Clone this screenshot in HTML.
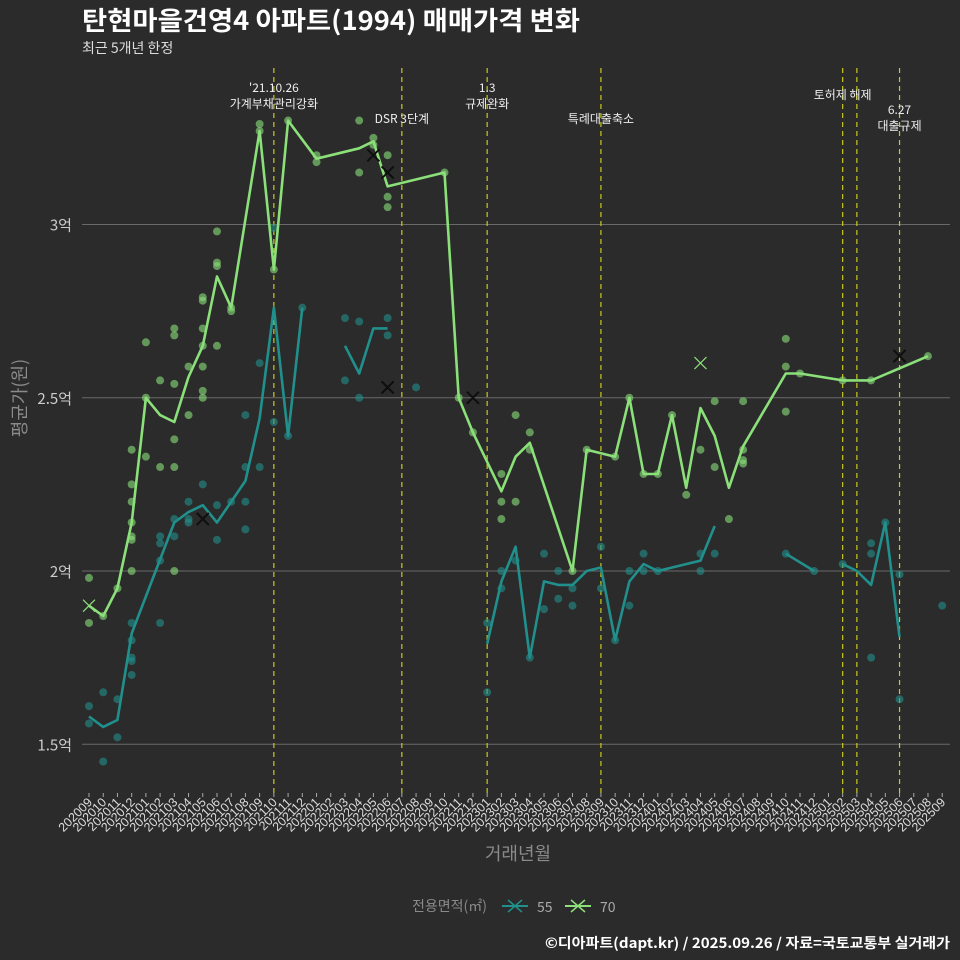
<!DOCTYPE html>
<html><head><meta charset="utf-8">
<style>
body{margin:0;background:#2b2b2b;}
svg{display:block;font-family:"Liberation Sans","Noto Sans CJK KR",sans-serif;}
</style></head>
<body>
<svg id="c" width="960" height="960" viewBox="0 0 960 960">
<rect width="960" height="960" fill="#2b2b2b"/>
<text x="82" y="30" fill="#ffffff" font-size="26" font-weight="bold" font-family="'Noto Sans CJK KR',sans-serif" textLength="498" lengthAdjust="spacingAndGlyphs">탄현마을건영4 아파트(1994) 매매가격 변화</text>
<text x="82" y="53" fill="#dddddd" font-size="14" font-family="'Noto Sans CJK KR',sans-serif">최근 5개년 한정</text>
<g id="grid"></g>
<g id="vlines"></g>
<g id="points"></g>
<g id="lines"></g>
<g id="marks"></g>
<g id="xaxis"></g>
<text transform="translate(26,398) rotate(-90)" text-anchor="middle" fill="#8a8a8a" font-size="18" font-family="'Noto Sans CJK KR',sans-serif">평균가(원)</text>
<text x="518" y="860" text-anchor="middle" fill="#8a8a8a" font-size="18" font-family="'Noto Sans CJK KR',sans-serif">거래년월</text>
<g font-family="'Noto Sans CJK KR',sans-serif">
<text x="412" y="911" fill="#8a8a8a" font-size="14">전용면적(㎡)</text>
<g>
<line x1="502" y1="906" x2="528" y2="906" stroke="#21908c" stroke-width="2"/>
<path d="M508 900 L522 912 M522 900 L508 912" stroke="#21908c" stroke-width="1.5"/>
<text x="537" y="912" fill="#aaaaaa" font-size="14">55</text></g>
<g>
<line x1="565" y1="906" x2="591" y2="906" stroke="#8be07a" stroke-width="2"/>
<path d="M571 900 L585 912 M585 900 L571 912" stroke="#8be07a" stroke-width="1.5"/>
<text x="600" y="912" fill="#aaaaaa" font-size="14">70</text></g>
</g>
<text x="950" y="948" text-anchor="end" fill="#ffffff" font-size="14" font-weight="bold" font-family="'Noto Sans CJK KR',sans-serif" textLength="405" lengthAdjust="spacingAndGlyphs">©디아파트(dapt.kr) / 2025.09.26 / 자료=국토교통부 실거래가</text>
</svg>
<script>
const yTicks=[1.5,2,2.5,3];
const yTickLabels=["1.5억","2억","2.5억","3억"];
const policyMonths=[13,22,28,36,53,54,57];
const policyLabels=[["'21.10.26","가계부채관리강화"],["DSR 3단계"],["1.3","규제완화"],["특례대출축소"],["토허제 해제"],[],["6.27","대출규제"]];
const policyLabelY=[[92,108],[123],[92,108],[123],[99],[],[114,130]];
const months70=[0,1,2,3,4,5,6,7,8,9,10,12,13,14,16,19,20,21,25,26,27,29,30,31,34,35,37,38,39,40,41,42,43,44,45,46,49,50,53,55,59];
const values70=[1.90,1.87,1.95,2.14,2.50,2.45,2.43,2.56,2.65,2.85,2.76,3.27,2.87,3.30,3.19,3.22,3.24,3.11,3.15,2.50,2.40,2.23,2.33,2.37,2.00,2.35,2.33,2.50,2.28,2.28,2.45,2.24,2.47,2.39,2.24,2.36,2.57,2.57,2.55,2.55,2.62];
const months55=[0,1,2,3,6,7,8,9,10,11,12,13,14,15,null,18,19,20,21,null,28,29,30,31,32,33,34,35,36,37,38,39,40,43,44,null,49,51,null,53,54,55,56,57];
const values55=[1.58,1.55,1.57,1.82,2.14,2.17,2.19,2.14,2.20,2.26,2.44,2.76,2.39,2.76,null,2.65,2.57,2.70,2.70,null,1.79,1.97,2.07,1.75,1.97,1.96,1.96,2.00,2.01,1.80,1.97,2.02,2.00,2.03,2.13,null,2.05,2.00,null,2.02,2.00,1.96,2.14,1.81];
const pts70M=[0,0,1,2,3,3,3,3,3,3,3,4,4,4,5,5,6,6,6,6,6,6,7,7,8,8,8,8,8,8,8,9,9,9,9,10,10,12,12,13,14,16,16,19,19,20,20,21,21,21,25,26,27,29,29,29,30,30,31,31,34,35,37,38,39,40,41,42,43,44,44,45,46,46,46,46,49,49,49,50,53,55,59];
const pts70V=[1.98,1.85,1.87,1.95,2.35,2.25,2.20,2.14,2.10,2.09,2.0,2.5,2.33,2.66,2.55,2.30,2.54,2.38,2.30,2.0,2.70,2.68,2.45,2.59,2.50,2.52,2.59,2.65,2.70,2.78,2.79,2.65,2.88,2.89,2.98,2.76,2.75,3.29,3.27,2.87,3.30,3.20,3.18,3.30,3.15,3.25,3.23,3.20,3.08,3.05,3.15,2.50,2.40,2.28,2.20,2.15,2.45,2.20,2.40,2.35,2.0,2.35,2.33,2.5,2.28,2.28,2.45,2.22,2.35,2.49,2.30,2.15,2.49,2.32,2.31,2.35,2.67,2.59,2.46,2.57,2.55,2.55,2.62];
const pts55M=[0,0,1,1,2,2,3,3,3,3,3,5,5,5,5,6,6,7,7,7,8,9,9,10,11,11,11,11,12,12,13,13,14,15,18,18,19,19,21,21,23,28,28,29,29,30,31,32,32,33,33,34,34,36,36,37,38,38,39,39,40,43,43,44,49,51,53,55,55,55,56,57,57,60];
const pts55V=[1.61,1.56,1.65,1.45,1.63,1.52,1.85,1.80,1.75,1.74,1.70,1.85,2.03,2.08,2.10,2.15,2.10,2.20,2.15,2.14,2.25,2.19,2.09,2.20,2.12,2.20,2.30,2.45,2.30,2.60,2.43,2.99,2.39,2.76,2.73,2.55,2.72,2.50,2.73,2.68,2.53,1.65,1.85,2.0,1.95,2.03,1.75,2.05,1.89,2.0,1.92,1.95,1.90,2.07,1.95,1.80,2.0,1.90,2.05,2.0,2.0,2.05,2.0,2.05,2.05,2.0,2.02,2.08,2.05,1.75,2.14,1.99,1.63,1.90];
const crossM=[0,20,21,27,43,57,8,21];
const crossV=[1.90,3.20,3.15,2.50,2.60,2.62,2.15,2.53];
const crossS=["70","70b","70b","70b","70","70b","55b","55b"];

const NS="http://www.w3.org/2000/svg";
const x0=89, dx=14.22;
const xS=m=>x0+m*dx;
const yS=v=>571-(v-2)*346.5;
function el(t,a,p){const e=document.createElementNS(NS,t);for(const k in a)e.setAttribute(k,a[k]);p.appendChild(e);return e;}
const g=id=>document.getElementById(id);
const C55="#21908c",C70="#8be07a";

yTicks.forEach((v,i)=>{
  const l=el('line',{x1:82,x2:950,y1:yS(v),y2:yS(v),stroke:'#6a6a6a','stroke-width':1},g('grid'));
  
  
  const t=el('text',{x:72,y:yS(v)+6,'text-anchor':'end',fill:'#cccccc','font-size':15,'font-family':"'Noto Sans CJK KR',sans-serif"},g('grid'));
  t.textContent=yTickLabels[i];
  
  
});
policyMonths.forEach((m,i)=>{
  const l=el('line',{x1:xS(m),x2:xS(m),y1:68,y2:795,stroke:'#c8c81e','stroke-width':1.2,'stroke-dasharray':'5,4'},g('vlines'));
  
  
  policyLabels[i].forEach((s,j)=>{
    const t=el('text',{x:xS(m),y:policyLabelY[i][j],'text-anchor':'middle',fill:'#eeeeee','font-size':12,'font-family':"'Noto Sans CJK KR',sans-serif"},g('vlines'));
    t.textContent=s;
    
    
  });
});
function dots(M,V,c){M.forEach((m,i)=>{
  const d=el('circle',{cx:xS(m),cy:yS(V[i]),r:4,fill:c,'fill-opacity':0.6},g('points'));
  
  
});}
dots(pts55M,pts55V,C55);dots(pts70M,pts70V,C70);
function line(M,V,c,name){
  let d='',pen=false;
  M.forEach((m,i)=>{if(m===null||V[i]===null){pen=false;return;}d+=(pen?'L':'M')+xS(m).toFixed(1)+' '+yS(V[i]).toFixed(1)+' ';pen=true;});
  const p=el('path',{d:d,fill:'none',stroke:c,'stroke-width':2.6,'stroke-linejoin':'round'},g('lines'));
  
  
}
line(months55,values55,C55,'line-55');line(months70,values70,C70,'line-70');
crossM.forEach((m,i)=>{
  const x=xS(m),y=yS(crossV[i]),s=crossS[i];
  const col=s.startsWith('55')?C55:C70;
  if(s.endsWith('b')){const b=el('path',{d:`M${x-6} ${y-6}L${x+6} ${y+6}M${x+6} ${y-6}L${x-6} ${y+6}`,stroke:'#000',"stroke-width":1.8},g('marks'));}
  const p=el('path',{d:`M${x-6} ${y-6}L${x+6} ${y+6}M${x+6} ${y-6}L${x-6} ${y+6}`,stroke:s.endsWith('b')?'#111':col,'stroke-width':1.2},g('marks'));
  
  
});
for(let m=0;m<=60;m++){
  const yr=2020+Math.floor((8+m)/12), mo=((8+m)%12)+1;
  const lab=yr+String(mo).padStart(2,'0');
  const t1=el('line',{x1:xS(m),x2:xS(m),y1:793,y2:797,stroke:'#aaaaaa'},g('xaxis'));
  
  
  const t=el('text',{transform:`translate(${xS(m)+4},803) rotate(-45)`,'text-anchor':'end',fill:'#dddddd','font-size':12.5},g('xaxis'));
  t.textContent=lab;
  
  
}
</script>
</body></html>
